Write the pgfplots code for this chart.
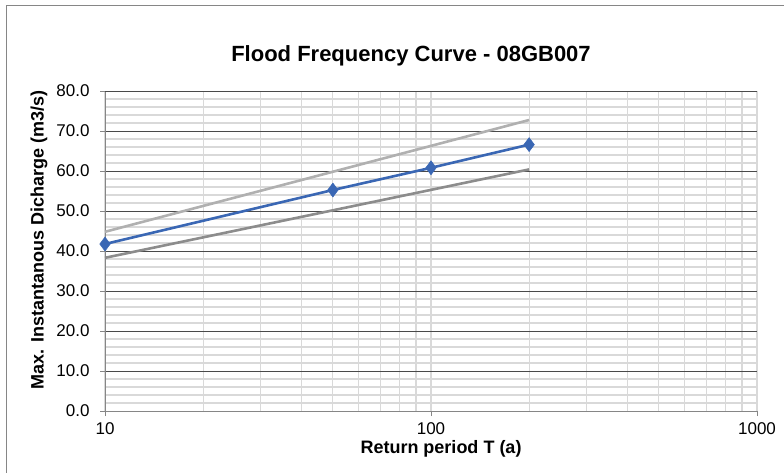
\documentclass[border=0pt]{standalone}
\usepackage{pgfplots}
\pgfplotsset{compat=1.18}
\usepackage{fontspec}
\setmainfont{Liberation Sans}
\definecolor{serblue}{HTML}{3A67B4}
\definecolor{uppergray}{HTML}{B0B0B0}
\definecolor{lowergray}{HTML}{8C8C8C}
\definecolor{axgray}{HTML}{868686}
\definecolor{majgrid}{HTML}{4A4A4A}
\definecolor{mingrid}{HTML}{D9D9D9}
\begin{document}
\begin{tikzpicture}
\path[use as bounding box] (0pt,0pt) rectangle (784pt,-472pt);
\draw[axgray, line width=1pt] (6pt,-520pt) -- (6pt,-5pt) -- (820pt,-5pt);
\begin{axis}[
  at={(105pt,-411pt)}, anchor=south west,
  scale only axis, width=652pt, height=320pt,
  xmode=log, xmin=10, xmax=1000, ymin=0, ymax=80,
  axis x line*=bottom, axis y line*=left,
  axis line style={axgray, line width=1pt},
  xtick={10,100,1000}, xticklabels={10,100,1000},
  minor xtick={20,30,40,50,60,70,80,90,200,300,400,500,600,700,800,900},
  ytick={0,10,...,70},
  minor ytick={2,4,6,8,12,14,16,18,22,24,26,28,32,34,36,38,42,44,46,48,52,54,56,58,62,64,66,68,72,74,76,78},
  extra y ticks={80},
  extra y tick style={major grid style={mingrid, line width=1.2pt}},
  xmajorgrids=true, xminorgrids=true, ymajorgrids=true, yminorgrids=true,
  major y grid style={majgrid, line width=1pt},
  major x grid style={mingrid, line width=1.2pt},
  minor x grid style={mingrid, line width=1.2pt},
  minor y grid style={mingrid, line width=1.2pt},
  tick align=outside, major tick length=5pt, minor tick length=0pt,
  tick style={axgray, line width=1pt},
  yticklabel style={xshift=-7pt, /pgf/number format/.cd, fixed, fixed zerofill, precision=1, assume math mode=true},
  xticklabel style={yshift=-3pt},
  ticklabel style={font=\fontsize{17}{20}\selectfont, text=black},
  clip=false,
]
\addplot[uppergray, line width=2.6pt] coordinates {(10,44.8) (200,72.75)};
\addplot[lowergray, line width=2.6pt] coordinates {(10,38.3) (200,60.4)};
\addplot[serblue, line width=2.6pt, mark=diamond*, mark size=7pt, mark options={fill=serblue, line width=0.5pt}] coordinates {(10,41.75) (50,55.25) (100,60.8) (200,66.6)};
\end{axis}
\node[font=\fontsize{22}{26}\selectfont\bfseries] at (411pt,-56pt) {Flood Frequency Curve - 08GB007};
\node[font=\fontsize{18}{22}\selectfont\bfseries, anchor=base] at (441pt,-453pt) {Return period T (a)};
\node[font=\fontsize{18}{22}\selectfont\bfseries, rotate=90] at (39pt,-240pt) {Max. Instantanous Dicharge (m3/s)};
\end{tikzpicture}
\end{document}
